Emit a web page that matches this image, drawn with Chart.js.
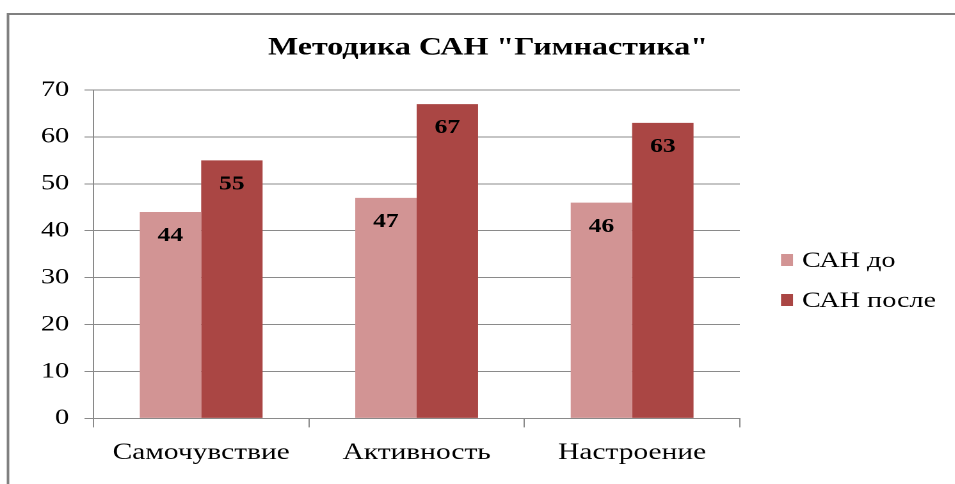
<!DOCTYPE html>
<html>
<head>
<meta charset="utf-8">
<script src="https://cdn.jsdelivr.net/npm/chart.js@4/dist/chart.umd.min.js"></script>
<style>
html,body{margin:0;padding:0;background:#fff;overflow:hidden;}
#wrap{position:absolute;left:0;top:0;width:746px;height:484px;transform:scaleX(1.28);transform-origin:0 0;}
</style>
</head>
<body>
<div id="wrap"><canvas id="c" width="746" height="484"></canvas></div>
<script>
const categories = ["Самочувствие", "Активность", "Настроение"];
const seriesNames = ["САН до", "САН после"];
const sanBefore = [44, 47, 46];
const sanAfter = [55, 67, 63];
const yTicks = [0, 10, 20, 30, 40, 50, 60, 70];
const chartTitle = 'Методика САН "Гимнастика"';

const SX = 1.28;
const FONT = "'Liberation Serif', 'Times New Roman', serif";
const colors = ["#D29494", "#AA4644"];
const gridColor = "#8a8a8a";

const framePlugin = {
  id: 'frame',
  beforeDraw(chart) {
    const ctx = chart.ctx;
    ctx.save();
    ctx.strokeStyle = "#808080";
    ctx.lineWidth = 2;
    ctx.beginPath();
    ctx.moveTo(8 / SX, chart.height + 5);
    ctx.lineTo(8 / SX, 14);
    ctx.lineTo(chart.width + 5, 14);
    ctx.stroke();
    ctx.restore();
  }
};

const titlePlugin = {
  id: 'titleText',
  afterDraw(chart) {
    const ctx = chart.ctx;
    ctx.save();
    ctx.font = "bold 25px " + FONT;
    ctx.fillStyle = "#000";
    ctx.textAlign = "center";
    ctx.textBaseline = "middle";
    ctx.fillText(chartTitle, 488 / SX, 48);
    ctx.restore();
  }
};

const labelPlugin = {
  id: 'valueLabels',
  afterDatasetsDraw(chart) {
    const ctx = chart.ctx;
    ctx.save();
    ctx.font = "bold 20px " + FONT;
    ctx.fillStyle = "#000";
    ctx.textAlign = "center";
    ctx.textBaseline = "middle";
    chart.data.datasets.forEach((ds, i) => {
      chart.getDatasetMeta(i).data.forEach((bar, j) => {
        ctx.fillText(String(ds.data[j]), bar.x, bar.y + 24);
      });
    });
    ctx.restore();
  }
};

const legendPlugin = {
  id: 'sideLegend',
  afterDraw(chart) {
    const ctx = chart.ctx;
    ctx.save();
    ctx.font = "22px " + FONT;
    ctx.textBaseline = "middle";
    ctx.textAlign = "left";
    const ys = [260, 300];
    chart.data.datasets.forEach((ds, i) => {
      ctx.fillStyle = ds.backgroundColor;
      ctx.fillRect(781 / SX, ys[i] - 6, 12 / SX, 12);
      ctx.fillStyle = "#000";
      ctx.fillText(ds.label, 802 / SX, ys[i] + 1);
    });
    ctx.restore();
  }
};

new Chart(document.getElementById('c'), {
  type: 'bar',
  data: {
    labels: categories,
    datasets: [
      { label: seriesNames[0], data: sanBefore, backgroundColor: colors[0], borderWidth: 0 },
      { label: seriesNames[1], data: sanAfter, backgroundColor: colors[1], borderWidth: 0 }
    ]
  },
  options: {
    responsive: false,
    animation: false,
    devicePixelRatio: 2,
    categoryPercentage: 0.57,
    barPercentage: 1,
    layout: { padding: { left: 20, right: 168, top: 90, bottom: 5 } },
    plugins: {
      legend: { display: false },
      tooltip: { enabled: false },
      title: { display: false }
    },
    scales: {
      x: {
        grid: { display: true, offset: true, drawOnChartArea: false, drawTicks: true, tickLength: 9, color: gridColor },
        border: { display: true, color: gridColor, width: 1 },
        ticks: { color: "#000", font: { family: FONT, size: 23 }, padding: 12 }
      },
      y: {
        min: 0,
        max: 70,
        afterBuildTicks(axis) { axis.ticks = yTicks.map(v => ({ value: v })); },
        grid: { color: gridColor, tickLength: 7, lineWidth: 1 },
        border: { display: true, color: gridColor, width: 1 },
        ticks: { color: "#000", font: { family: FONT, size: 22 }, padding: 12 }
      }
    }
  },
  plugins: [framePlugin, titlePlugin, labelPlugin, legendPlugin]
});
</script>
</body>
</html>
